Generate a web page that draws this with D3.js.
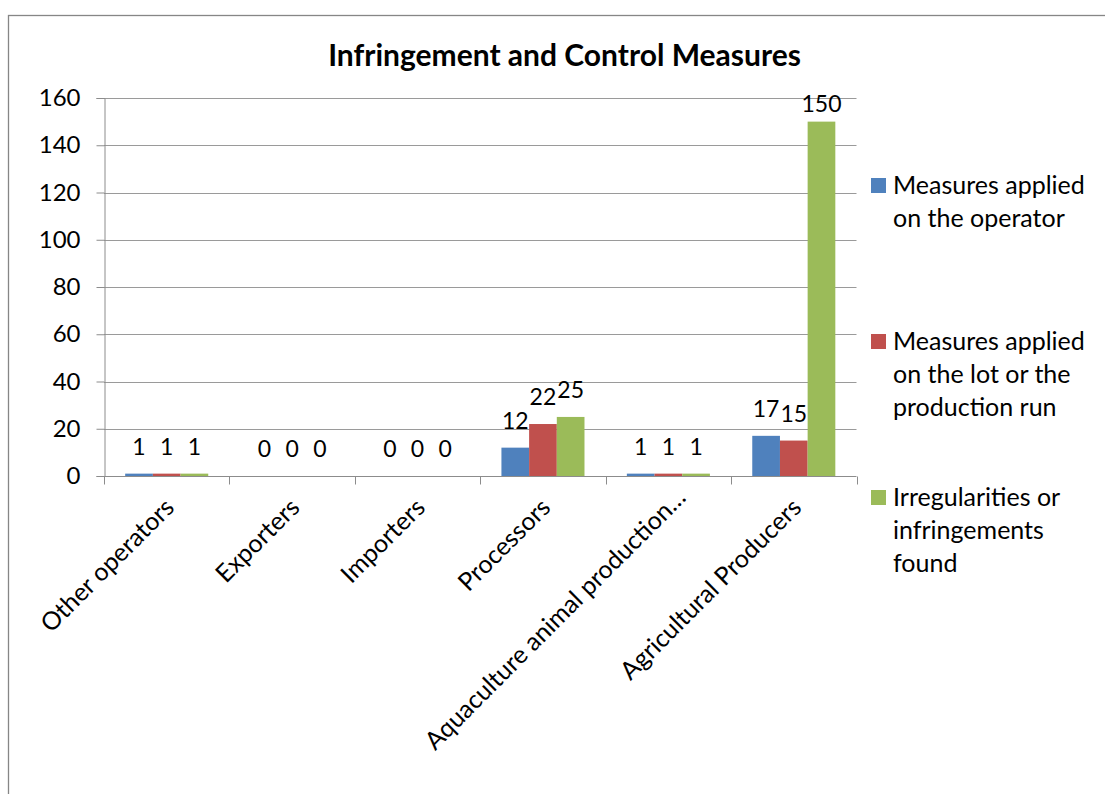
<!DOCTYPE html>
<html>
<head>
<meta charset="utf-8">
<script src="https://cdn.jsdelivr.net/npm/d3@7"></script>
<style>
  body { margin: 0; background: #fff; }
  svg { display: block; font-family: Lato, "Open Sans", sans-serif; }
</style>
</head>
<body>
<svg id="chart" width="1105" height="794"></svg>
<script>
// Operator categories along the x axis
const categories = ["Other operators", "Exporters", "Importers", "Processors",
  "Aquaculture animal production…", "Agricultural Producers"];

// One array of counts per series, in category order
const measuresOperator = [1, 0, 0, 12, 1, 17];
const measuresLot = [1, 0, 0, 22, 1, 15];
const irregularities = [1, 0, 0, 25, 1, 150];

const seriesNames = [
  ["Measures applied", "on the operator"],
  ["Measures applied", "on the lot or the", "production run"],
  ["Irregularities or", "infringements", "found"]
];
const seriesColors = ["#4F81BD", "#C0504D", "#9BBB59"];
const yTicks = [0, 20, 40, 60, 80, 100, 120, 140, 160];

const series = [measuresOperator, measuresLot, irregularities];

const svg = d3.select("#chart");
const plot = { left: 104, right: 856.5, top: 98, bottom: 476 };
const axisColor = "#8c8c8c";

// Outer chart frame
svg.append("rect")
  .attr("x", 8.5).attr("y", 15.5)
  .attr("width", 1110).attr("height", 800)
  .attr("fill", "#fff").attr("stroke", "#868686").attr("stroke-width", 1.3);

// Title
svg.append("text")
  .attr("x", 564.5).attr("y", 66)
  .attr("text-anchor", "middle")
  .attr("font-weight", "bold").attr("font-size", 30)
  .attr("fill", "#000")
  .text("Infringement and Control Measures");

const x = d3.scaleBand().domain(categories).range([plot.left, plot.right]).padding(0);
const xInner = d3.scaleBand().domain(d3.range(3))
  .range([0, x.bandwidth()]).paddingInner(0).paddingOuter(0.765);
const y = d3.scaleLinear().domain([0, 160]).range([plot.bottom, plot.top]);

// Horizontal gridlines
svg.append("g")
  .selectAll("line").data(yTicks.filter(d => d > 0)).join("line")
  .attr("x1", plot.left).attr("x2", plot.right)
  .attr("y1", d => Math.round(y(d)) + 0.5).attr("y2", d => Math.round(y(d)) + 0.5)
  .attr("stroke", "#9a9a9a").attr("stroke-width", 1);

// Y axis
const yAxis = svg.append("g")
  .attr("transform", `translate(${plot.left + 0.5},0)`)
  .call(d3.axisLeft(y).tickValues(yTicks).tickSize(8).tickPadding(16).tickFormat(d3.format("d")));
yAxis.select(".domain").attr("stroke", axisColor);
yAxis.selectAll(".tick line").attr("stroke", axisColor);
yAxis.selectAll(".tick text")
  .attr("font-size", 24).attr("font-family", "Lato, sans-serif").attr("fill", "#000");

// X axis with ticks on category boundaries
const xAxisG = svg.append("g").attr("transform", `translate(0,${plot.bottom + 0.5})`);
xAxisG.append("line")
  .attr("x1", plot.left).attr("x2", plot.right)
  .attr("stroke", axisColor);
xAxisG.selectAll("line.tk")
  .data(d3.range(categories.length + 1)).join("line").attr("class", "tk")
  .attr("x1", i => Math.round(plot.left + i * x.step()) + 0.5)
  .attr("x2", i => Math.round(plot.left + i * x.step()) + 0.5)
  .attr("y1", 0).attr("y2", 8)
  .attr("stroke", axisColor);

// Rotated category labels; the truncated one carries a trailing ellipsis
svg.append("g").selectAll("text").data(categories).join("text")
  .attr("transform", d => `translate(${x(d) + x.bandwidth() / 2 + 9},${plot.bottom + 33}) rotate(-45)`)
  .attr("text-anchor", "end")
  .attr("dx", d => d.endsWith("…") ? 14 : 0)
  .attr("font-size", 25).attr("fill", "#000")
  .text(d => d);

// Bars with value labels above them (kept inside the plot area)
const groups = svg.append("g").selectAll("g").data(categories).join("g")
  .attr("transform", d => `translate(${x(d)},0)`);

series.forEach((vals, s) => {
  groups.append("rect")
    .attr("x", xInner(s))
    .attr("width", xInner.bandwidth())
    .attr("y", (d, i) => y(vals[i]))
    .attr("height", (d, i) => y(0) - y(vals[i]))
    .attr("fill", seriesColors[s]);
  groups.append("text")
    .attr("x", xInner(s) + xInner.bandwidth() / 2)
    .attr("y", (d, i) => Math.max(y(vals[i]) - 19, plot.top + 14))
    .attr("text-anchor", "middle")
    .attr("font-size", 23).attr("fill", "#000")
    .text((d, i) => vals[i]);
});

// Legend
const legendY = [185.5, 341.5, 497.5];
const legend = svg.append("g");
seriesNames.forEach((lines, s) => {
  legend.append("rect")
    .attr("x", 871).attr("y", legendY[s] - 7.5)
    .attr("width", 15).attr("height", 15)
    .attr("fill", seriesColors[s]);
  legend.append("g").selectAll("text").data(lines).join("text")
    .attr("x", 893)
    .attr("y", (d, i) => legendY[s] + 8 + i * 33)
    .attr("font-size", 25).attr("fill", "#000")
    .text(d => d);
});
</script>
</body>
</html>
